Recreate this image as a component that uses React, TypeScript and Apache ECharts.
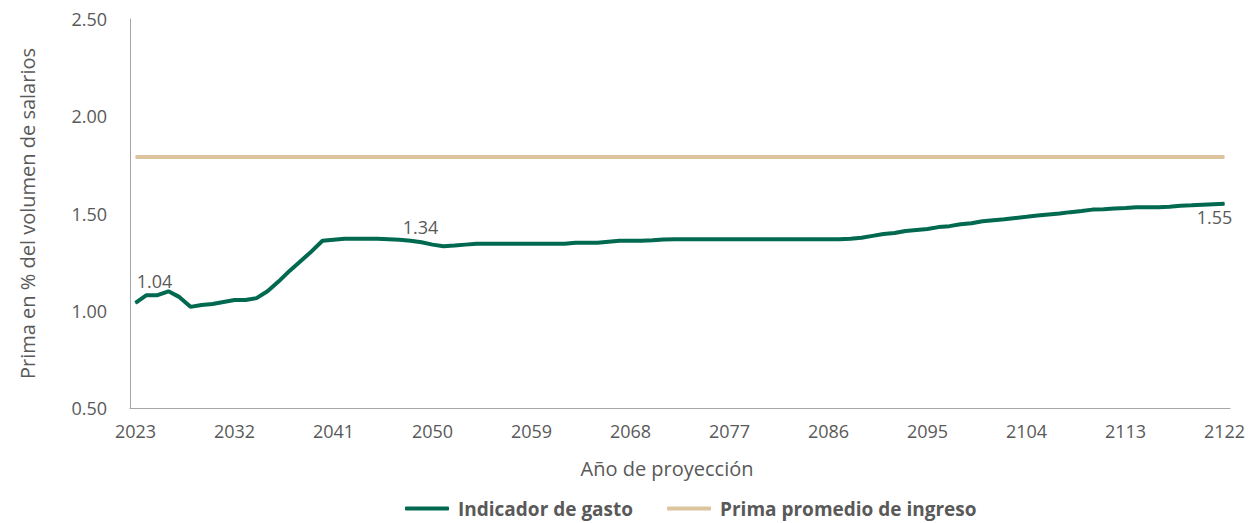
import React, { useEffect, useRef } from "react";
import * as echarts from "echarts";

const years: string[] = Array.from({ length: 100 }, (_, i) => String(2023 + i));

const gasto: number[] = [
  1.04, 1.08, 1.08, 1.1, 1.07, 1.02, 1.03, 1.035, 1.045, 1.055,
  1.055, 1.065, 1.1, 1.15, 1.205, 1.255, 1.305, 1.36, 1.365, 1.37,
  1.37, 1.37, 1.37, 1.368, 1.365, 1.36, 1.352, 1.34, 1.332, 1.335,
  1.34, 1.345, 1.345, 1.345, 1.345, 1.345, 1.345, 1.345, 1.345, 1.345,
  1.35, 1.35, 1.35, 1.355, 1.36, 1.36, 1.36, 1.362, 1.366, 1.368,
  1.368, 1.368, 1.368, 1.368, 1.368, 1.368, 1.368, 1.368, 1.368, 1.368,
  1.368, 1.368, 1.368, 1.368, 1.368, 1.37, 1.375, 1.385, 1.395, 1.4,
  1.41, 1.415, 1.42, 1.43, 1.435, 1.445, 1.45, 1.46, 1.465, 1.47,
  1.477, 1.483, 1.49, 1.495, 1.5, 1.507, 1.513, 1.52, 1.522, 1.526,
  1.528, 1.532, 1.532, 1.532, 1.535, 1.54, 1.542, 1.545, 1.548, 1.55,
];

const primaPromedio: number[] = years.map(() => 1.79);

const labeledPoints: { index: number; label: string; position: string; offset: number[]; distance: number }[] = [
  { index: 0, label: "1.04", position: "top", offset: [19, 0], distance: 12 },
  { index: 27, label: "1.34", position: "top", offset: [-12, 0], distance: 8 },
  { index: 99, label: "1.55", position: "bottom", offset: [-10, 0], distance: 4 },
];

const yTicks = { min: 0.5, max: 2.5, interval: 0.5 };

const FONT = "'Open Sans', 'Noto Sans', sans-serif";
const GRAY = "#595959";
const GREEN = "#00694f";
const TAN = "#dcc59e";

export default function App() {
  const ref = useRef<HTMLDivElement>(null);
  useEffect(() => {
    if (!ref.current) return;
    const chart = echarts.init(ref.current, undefined, { renderer: "svg" });
    const gastoData = gasto.map((v, i) => {
      const lp = labeledPoints.find((p) => p.index === i);
      if (!lp) return v;
      return {
        value: v,
        label: {
          show: true,
          formatter: lp.label,
          position: lp.position,
          offset: lp.offset,
          distance: lp.distance,
          color: GRAY,
          fontSize: 18,
          fontFamily: FONT,
        },
      };
    });
    chart.setOption({
      animation: false,
      textStyle: { fontFamily: FONT },
      grid: { left: 130, right: 23, top: 19, bottom: 115, containLabel: false },
      legend: {
        top: 494,
        left: 400,
        itemWidth: 44,
        itemHeight: 4,
        itemGap: 34,
        icon: "roundRect",
        textStyle: {
          color: GRAY,
          fontSize: 19,
          fontWeight: "bold",
          fontFamily: FONT,
          padding: [0, 0, 0, 4],
        },
        data: ["Indicador de gasto", "Prima promedio de ingreso"],
      },
      xAxis: {
        type: "category",
        data: years,
        boundaryGap: true,
        name: "Año de proyección",
        nameLocation: "middle",
        nameGap: 50,
        nameTextStyle: { color: GRAY, fontSize: 20, fontFamily: FONT, padding: [0, 26, 0, 0] },
        axisLine: { lineStyle: { color: "#a6a6a6", width: 1 } },
        axisTick: { show: false },
        axisLabel: { interval: 8, color: GRAY, fontSize: 18, margin: 14, fontFamily: FONT },
        splitLine: { show: false },
      },
      yAxis: {
        type: "value",
        min: yTicks.min,
        max: yTicks.max,
        interval: yTicks.interval,
        name: "Prima en % del volumen de salarios",
        nameLocation: "middle",
        nameGap: 93,
        nameTextStyle: { color: GRAY, fontSize: 20, fontFamily: FONT },
        axisLine: { show: true, lineStyle: { color: "#a6a6a6", width: 1 } },
        axisTick: { show: false },
        axisLabel: {
          color: GRAY,
          fontSize: 18,
          margin: 23,
          fontFamily: FONT,
          formatter: (v: number) => v.toFixed(2),
        },
        splitLine: { show: false },
      },
      series: [
        {
          name: "Indicador de gasto",
          type: "line",
          data: gastoData,
          symbol: "circle",
          symbolSize: 1,
          showSymbol: true,
          lineStyle: { color: GREEN, width: 4 },
          itemStyle: { color: GREEN },
          z: 3,
        },
        {
          name: "Prima promedio de ingreso",
          type: "line",
          data: primaPromedio,
          symbol: "none",
          showSymbol: false,
          lineStyle: { color: TAN, width: 4 },
          itemStyle: { color: TAN },
          z: 2,
        },
      ],
    });
    return () => chart.dispose();
  }, []);
  return (
    <div
      ref={ref}
      style={{ position: "absolute", left: 0, top: 0, width: 1253, height: 523 }}
    />
  );
}
